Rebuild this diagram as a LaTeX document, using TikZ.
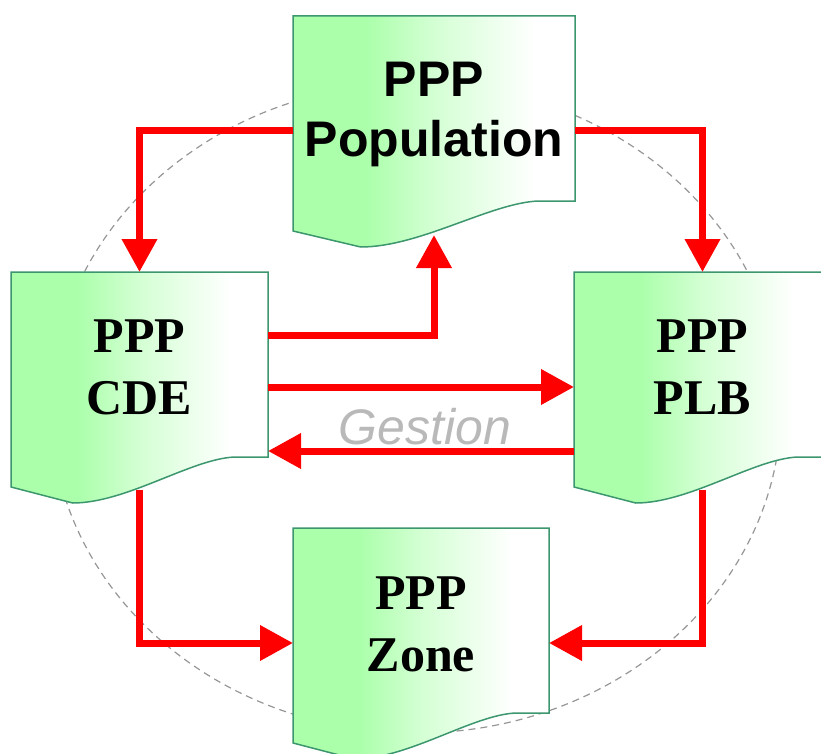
\documentclass[tikz,border=0pt]{standalone}
\usepackage{fontspec}
\setmainfont{Liberation Serif}
\newfontfamily\arialfont{Liberation Sans}
\usetikzlibrary{arrows.meta,calc,positioning}
\definecolor{docline}{RGB}{60,150,110}
\definecolor{flowred}{RGB}{255,0,0}
\definecolor{ringgray}{RGB}{150,150,150}
\definecolor{labelgray}{RGB}{185,185,185}
\pgfdeclarehorizontalshading{docshade}{100bp}{rgb(0bp)=(0.67,1,0.67); rgb(38bp)=(0.67,1,0.67); rgb(50bp)=(0.83,1,0.83); rgb(68bp)=(1,1,1); rgb(100bp)=(1,1,1)}
\newcommand\docshape[1]{%
  \shade[shading=docshade,draw=docline,line width=1.5pt]
    (#1.north west) -- (#1.north east) -- (#1.south east)
    -- ($(#1.south west)!0.87!(#1.south east)$)
    .. controls ($(#1.south west)!0.7!(#1.south east)+(0,2)$)
    and ($(#1.south west)!0.45!(#1.south east)+(0,46)$)
    .. ($(#1.south west)!0.24!(#1.south east)+(0,46)$)
    -- ($(#1.south west)+(0,30)$) -- cycle;}

\begin{document}
\begin{tikzpicture}[x=1pt,y=-1pt,
  box/.style={minimum width=257pt,minimum height=185pt,inner sep=0pt,outer sep=0pt},
  boxtext/.style={align=center,font=\fontsize{50}{62}\selectfont\bfseries},
  flow/.style={flowred,line width=7pt,-{Triangle[length=33pt,width=34pt]}}]
  \useasboundingbox (0,0) rectangle (821,754);
  \clip (0,0) rectangle (821,754);
  \draw[ringgray,line width=1.2pt,dash pattern=on 7pt off 5pt] (416,408) ellipse [x radius=365pt,y radius=325pt];
  \node[box,minimum width=282pt] (pop) at (434,108.5) {};
  \node[box] (cde) at (139.5,364.5) {};
  \node[box] (plb) at (702.5,364.5) {};
  \node[box,minimum width=256pt] (zone) at (421,620.5) {};
  \docshape{pop}
  \docshape{cde}
  \docshape{plb}
  \docshape{zone}
  \node[boxtext,font=\arialfont\fontsize{50}{60}\selectfont\bfseries] (popt) at ([yshift=-5.5pt]pop.center) {PPP\\Population};
  \node[boxtext] (cdet) at ([yshift=-3pt]cde.center) {PPP\\CDE};
  \node[boxtext] (plbt) at ([yshift=-3pt]plb.center) {PPP\\PLB};
  \node[boxtext] (zonet) at ([yshift=-4pt]zone.center) {PPP\\Zone};
  \coordinate (cdeout) at ([yshift=-33pt]cde.south);
  \coordinate (plbout) at ([yshift=-33pt]plb.south);
  \coordinate (popin) at ([yshift=-34pt]pop.south);
  \draw[flow] ([yshift=-22.5pt]pop.west) -| (cde.north);
  \draw[flow] ([yshift=-22.5pt]pop.east) -| (plb.north);
  \draw[flow] ([yshift=29.5pt]cde.east) -| (popin);
  \draw[flow] ([yshift=-22.5pt]cde.east) -- ([yshift=-22.5pt]plb.west);
  \draw[flow] ([yshift=-86.5pt]plb.west) -- ([yshift=-86.5pt]cde.east);
  \draw[flow] (cdeout) |- ([yshift=-22.5pt]zone.west);
  \draw[flow] (plbout) |- ([yshift=-22.5pt]zone.east);
  \node[font=\arialfont\itshape\fontsize{50}{60}\selectfont,text=labelgray] (gestion) at (425,427) {Gestion};
\end{tikzpicture}
\end{document}
